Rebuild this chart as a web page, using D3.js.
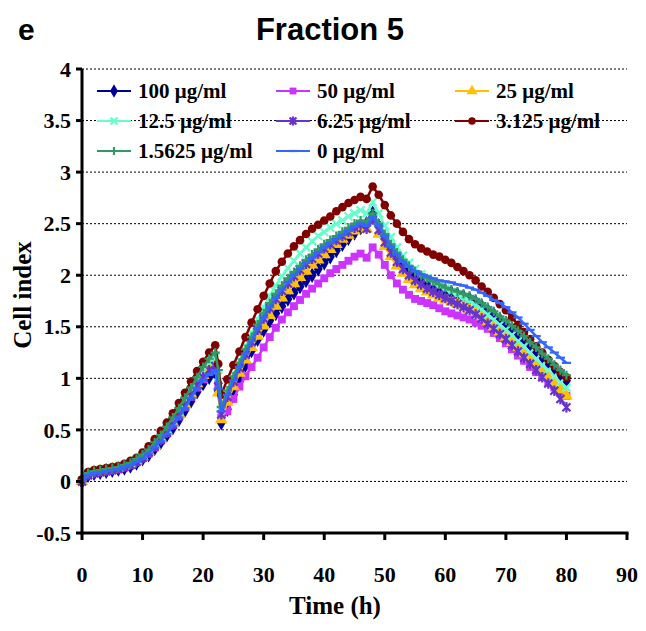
<!DOCTYPE html>
<html><head><meta charset="utf-8">
<script src="https://cdn.jsdelivr.net/npm/d3@7"></script>
<style>
html,body{margin:0;padding:0;background:#fff;}
svg{display:block;}
</style></head>
<body>
<script>
// ---- data ----
const time = [0,1,2,3,4,5,6,7,8,9,10,11,12,13,14,15,16,17,18,19,20,21,22,22.5,
  23,24,25,26,27,28,29,30,31,32,33,34,35,36,37,38,39,40,41,42,43,44,45,46,47,48,
  49,50,51,52,53,54,55,56,57,58,59,60,61,62,63,64,65,66,67,68,69,70,71,72,73,74,75,76,77,78,79,80];

const c100 = [0,0.06,0.08,0.09,0.1,0.11,0.12,0.13,0.15,0.18,0.22,0.26,0.32,0.38,0.45,0.52,0.6,0.69,0.78,0.87,0.95,1.01,1.05,0.88,
  0.57,0.7,0.84,0.97,1.13,1.27,1.38,1.47,1.56,1.63,1.7,1.77,1.83,1.89,1.95,2.0,2.06,2.12,2.18,2.24,2.3,2.36,2.41,2.46,2.5,2.6,
  2.48,2.36,2.26,2.17,2.1,2.04,1.99,1.95,1.92,1.89,1.87,1.85,1.83,1.81,1.79,1.77,1.74,1.7,1.66,1.62,1.57,1.53,1.48,1.43,1.37,1.32,1.26,1.21,1.15,1.1,1.04,0.98];
const c50 = [0,0.06,0.08,0.09,0.1,0.11,0.12,0.14,0.16,0.19,0.23,0.27,0.33,0.4,0.47,0.55,0.63,0.72,0.82,0.91,0.99,1.06,1.1,0.94,
  0.62,0.68,0.8,0.92,1.02,1.11,1.2,1.3,1.4,1.49,1.57,1.64,1.7,1.76,1.82,1.87,1.92,1.97,2.02,2.06,2.1,2.14,2.18,2.21,2.17,2.27,
  2.2,2.1,2.0,1.92,1.86,1.81,1.77,1.75,1.73,1.71,1.68,1.65,1.63,1.61,1.59,1.57,1.54,1.51,1.48,1.44,1.39,1.34,1.28,1.22,1.17,1.11,1.06,1.01,0.96,0.91,0.87,0.83];
const c25 = [0,0.07,0.09,0.1,0.11,0.12,0.13,0.15,0.17,0.2,0.24,0.29,0.35,0.42,0.49,0.57,0.66,0.75,0.85,0.95,1.03,1.1,1.15,0.86,
  0.6,0.77,0.92,1.05,1.18,1.3,1.41,1.51,1.61,1.7,1.78,1.85,1.92,1.98,2.04,2.1,2.15,2.2,2.25,2.3,2.35,2.39,2.43,2.47,2.45,2.53,
  2.4,2.28,2.18,2.09,2.02,1.96,1.91,1.87,1.84,1.81,1.78,1.76,1.74,1.72,1.7,1.67,1.64,1.6,1.55,1.5,1.45,1.4,1.35,1.3,1.24,1.19,1.13,1.07,1.01,0.95,0.89,0.83];
const c12_5 = [0.01,0.08,0.1,0.11,0.12,0.13,0.14,0.16,0.18,0.21,0.25,0.3,0.36,0.43,0.51,0.6,0.69,0.79,0.89,0.99,1.08,1.16,1.21,1.02,
  0.7,0.87,1.03,1.17,1.31,1.44,1.57,1.69,1.8,1.9,1.99,2.07,2.14,2.21,2.27,2.33,2.38,2.42,2.46,2.5,2.53,2.57,2.6,2.63,2.6,2.71,
  2.6,2.48,2.37,2.27,2.19,2.12,2.06,2.01,1.97,1.93,1.9,1.87,1.84,1.81,1.78,1.75,1.71,1.67,1.62,1.57,1.52,1.47,1.42,1.36,1.31,1.25,1.19,1.13,1.08,1.02,0.96,0.91];
const c6_25 = [0,0.06,0.08,0.09,0.1,0.11,0.12,0.14,0.16,0.19,0.23,0.28,0.34,0.4,0.47,0.55,0.64,0.73,0.83,0.93,1.01,1.08,1.12,0.92,
  0.65,0.82,0.97,1.1,1.23,1.35,1.47,1.58,1.68,1.77,1.85,1.92,1.99,2.05,2.11,2.16,2.21,2.26,2.3,2.34,2.38,2.42,2.46,2.49,2.45,2.54,
  2.44,2.32,2.22,2.13,2.06,2.0,1.95,1.91,1.87,1.84,1.81,1.78,1.75,1.72,1.69,1.66,1.62,1.58,1.53,1.48,1.43,1.38,1.32,1.26,1.2,1.14,1.08,1.01,0.95,0.88,0.8,0.72];
const c3_125 = [0.02,0.09,0.11,0.12,0.13,0.14,0.15,0.17,0.2,0.23,0.28,0.34,0.41,0.49,0.57,0.66,0.76,0.86,0.97,1.07,1.16,1.25,1.32,1.14,
  0.84,0.99,1.13,1.26,1.4,1.54,1.67,1.8,1.92,2.04,2.13,2.21,2.28,2.34,2.4,2.45,2.49,2.53,2.57,2.62,2.66,2.7,2.73,2.76,2.74,2.86,
  2.78,2.68,2.58,2.5,2.42,2.35,2.3,2.26,2.23,2.2,2.18,2.15,2.12,2.08,2.04,2.0,1.95,1.89,1.84,1.78,1.72,1.66,1.59,1.52,1.45,1.38,1.31,1.25,1.18,1.12,1.06,1.01];
const c1_5625 = [0.01,0.08,0.1,0.11,0.12,0.13,0.14,0.16,0.18,0.22,0.26,0.31,0.38,0.45,0.53,0.62,0.71,0.81,0.91,1.01,1.11,1.19,1.25,1.08,
  0.72,0.88,1.02,1.15,1.28,1.4,1.52,1.63,1.73,1.82,1.9,1.97,2.03,2.09,2.15,2.2,2.25,2.3,2.34,2.38,2.42,2.46,2.5,2.53,2.52,2.6,
  2.5,2.4,2.3,2.22,2.15,2.09,2.04,2.0,1.97,1.94,1.91,1.88,1.86,1.84,1.82,1.8,1.77,1.73,1.69,1.65,1.6,1.56,1.51,1.46,1.41,1.35,1.3,1.24,1.19,1.13,1.08,1.03];
const c0 = [0,0.06,0.08,0.09,0.1,0.11,0.12,0.14,0.16,0.19,0.22,0.27,0.33,0.39,0.46,0.54,0.62,0.71,0.81,0.9,0.98,1.04,1.08,0.9,
  0.68,0.84,0.98,1.11,1.24,1.36,1.48,1.59,1.69,1.78,1.86,1.93,2.0,2.06,2.12,2.17,2.22,2.27,2.31,2.35,2.39,2.43,2.47,2.5,2.48,2.56,
  2.48,2.38,2.28,2.2,2.13,2.08,2.04,2.01,1.99,1.97,1.95,1.94,1.93,1.91,1.9,1.88,1.86,1.83,1.8,1.76,1.73,1.69,1.64,1.59,1.53,1.47,1.41,1.35,1.3,1.25,1.2,1.15];

const seriesNames = ["100 μg/ml","50 μg/ml","25 μg/ml","12.5 μg/ml","6.25 μg/ml","3.125 μg/ml","1.5625 μg/ml","0 μg/ml"];
const seriesValues = [c100,c50,c25,c12_5,c6_25,c3_125,c1_5625,c0];
const seriesColors = ["#000099","#CC33FF","#FFC000","#66FFCC","#6633CC","#800000","#339966","#3366FF"];
const seriesMarkers = ["diamond","square","triangle","x","asterisk","circle","plus","dash"];

const xTicks = [0,10,20,30,40,50,60,70,80,90];
const yTicks = [-0.5,0,0.5,1,1.5,2,2.5,3,3.5,4];
const titleText = "Fraction 5";
const panelLabel = "e";
const xTitle = "Time (h)";
const yTitle = "Cell index";

// ---- layout ----
const W = 646, H = 631;
const M = {left:82, right:19, top:69, bottom:98};
const svg = d3.select("body").append("svg").attr("width",W).attr("height",H);

const x = d3.scaleLinear().domain([0,90]).range([M.left, W-M.right]);
const y = d3.scaleLinear().domain([-0.5,4]).range([H-M.bottom, M.top]);

const serif = "'Liberation Serif','Times New Roman',Times,serif";
const sans = "'Liberation Sans',Arial,Helvetica,sans-serif";

// grid
const grid = svg.append("g");
yTicks.filter(v=>v>-0.5).forEach(v=>{
  grid.append("line").attr("x1",x(0)).attr("x2",x(90)).attr("y1",y(v)).attr("y2",y(v))
    .attr("stroke","#000").attr("stroke-width",1).attr("stroke-dasharray","2,2");
});

// series
function markerPath(type, s){
  const p = d3.path();
  switch(type){
    case "x": p.moveTo(-s,-s);p.lineTo(s,s);p.moveTo(-s,s);p.lineTo(s,-s);break;
    case "asterisk": p.moveTo(-s,-s);p.lineTo(s,s);p.moveTo(-s,s);p.lineTo(s,-s);p.moveTo(0,-s*1.3);p.lineTo(0,s*1.3);break;
    case "plus": p.moveTo(-s*1.15,0);p.lineTo(s*1.15,0);p.moveTo(0,-s*1.15);p.lineTo(0,s*1.15);break;
    case "dash": p.moveTo(-s*1.15,0);p.lineTo(s*1.15,0);break;
  }
  return p.toString();
}
function drawMarker(g, type, color, k){
  if(type==="diamond") g.append("path").attr("d",d3.symbol(d3.symbolDiamond,70*k)()).attr("fill",color);
  else if(type==="square") g.append("path").attr("d",d3.symbol(d3.symbolSquare,62*k)()).attr("fill",color);
  else if(type==="triangle") g.append("path").attr("d",d3.symbol(d3.symbolTriangle,70*k)()).attr("fill",color);
  else if(type==="circle") g.append("circle").attr("r",4.3*Math.sqrt(k)).attr("fill",color);
  else g.append("path").attr("d",markerPath(type, 4*Math.sqrt(k))).attr("stroke",color).attr("stroke-width",2.2).attr("fill","none");
}

const line = d3.line().x((d,i)=>x(time[i])).y(d=>y(d));
const plot = svg.append("g");
seriesValues.forEach((vals,si)=>{
  const g = plot.append("g");
  g.append("path").attr("d",line(vals)).attr("fill","none").attr("stroke",seriesColors[si]).attr("stroke-width",2.5);
  vals.forEach((v,i)=>{
    const mg = g.append("g").attr("transform",`translate(${x(time[i])},${y(v)})`);
    drawMarker(mg, seriesMarkers[si], seriesColors[si], 1);
  });
});

// axes
const ax = svg.append("g");
ax.append("line").attr("x1",x(0)).attr("x2",x(0)).attr("y1",y(4)).attr("y2",y(-0.5)+1.5)
  .attr("stroke","#000").attr("stroke-width",3);
ax.append("line").attr("x1",x(0)-1.5).attr("x2",x(90)+1.5).attr("y1",y(-0.5)).attr("y2",y(-0.5))
  .attr("stroke","#000").attr("stroke-width",3);
yTicks.forEach(v=>{
  ax.append("line").attr("x1",x(0)-6).attr("x2",x(0)).attr("y1",y(v)).attr("y2",y(v)).attr("stroke","#000").attr("stroke-width",3);
  ax.append("text").attr("x",x(0)-11).attr("y",y(v)).attr("dy","0.35em").attr("text-anchor","end")
    .attr("font-family",serif).attr("font-weight","bold").attr("font-size",22).text(String(v));
});
xTicks.forEach(v=>{
  ax.append("line").attr("x1",x(v)).attr("x2",x(v)).attr("y1",y(-0.5)).attr("y2",y(-0.5)+7).attr("stroke","#000").attr("stroke-width",3);
  ax.append("text").attr("x",x(v)).attr("y",y(-0.5)+49).attr("text-anchor","middle")
    .attr("font-family",serif).attr("font-weight","bold").attr("font-size",22).text(String(v));
});

// titles
svg.append("text").attr("x",330).attr("y",40).attr("text-anchor","middle")
  .attr("font-family",sans).attr("font-weight","bold").attr("font-size",31).text(titleText);
svg.append("text").attr("x",18).attr("y",40)
  .attr("font-family",sans).attr("font-weight","bold").attr("font-size",30).text(panelLabel);
svg.append("text").attr("x",335).attr("y",614).attr("text-anchor","middle")
  .attr("font-family",serif).attr("font-weight","bold").attr("font-size",25).text(xTitle);
svg.append("text").attr("transform",`translate(31,${(y(4)+y(-0.5))/2 - 6}) rotate(-90)`).attr("text-anchor","middle")
  .attr("font-family",serif).attr("font-weight","bold").attr("font-size",25).text(yTitle);

// legend
const legCols = [97,276,455];
const legRows = [91,121,151];
seriesNames.forEach((name,i)=>{
  const cx = legCols[i%3], cy = legRows[Math.floor(i/3)];
  const g = svg.append("g");
  g.append("line").attr("x1",cx).attr("x2",cx+34).attr("y1",cy).attr("y2",cy).attr("stroke",seriesColors[i]).attr("stroke-width",2);
  const mg = g.append("g").attr("transform",`translate(${cx+17},${cy})`);
  drawMarker(mg, seriesMarkers[i], seriesColors[i], 0.75);
  g.append("text").attr("x",cx+41).attr("y",cy).attr("dy","0.35em")
    .attr("font-family",serif).attr("font-weight","bold").attr("font-size",21).text(name);
});
</script>
</body></html>
